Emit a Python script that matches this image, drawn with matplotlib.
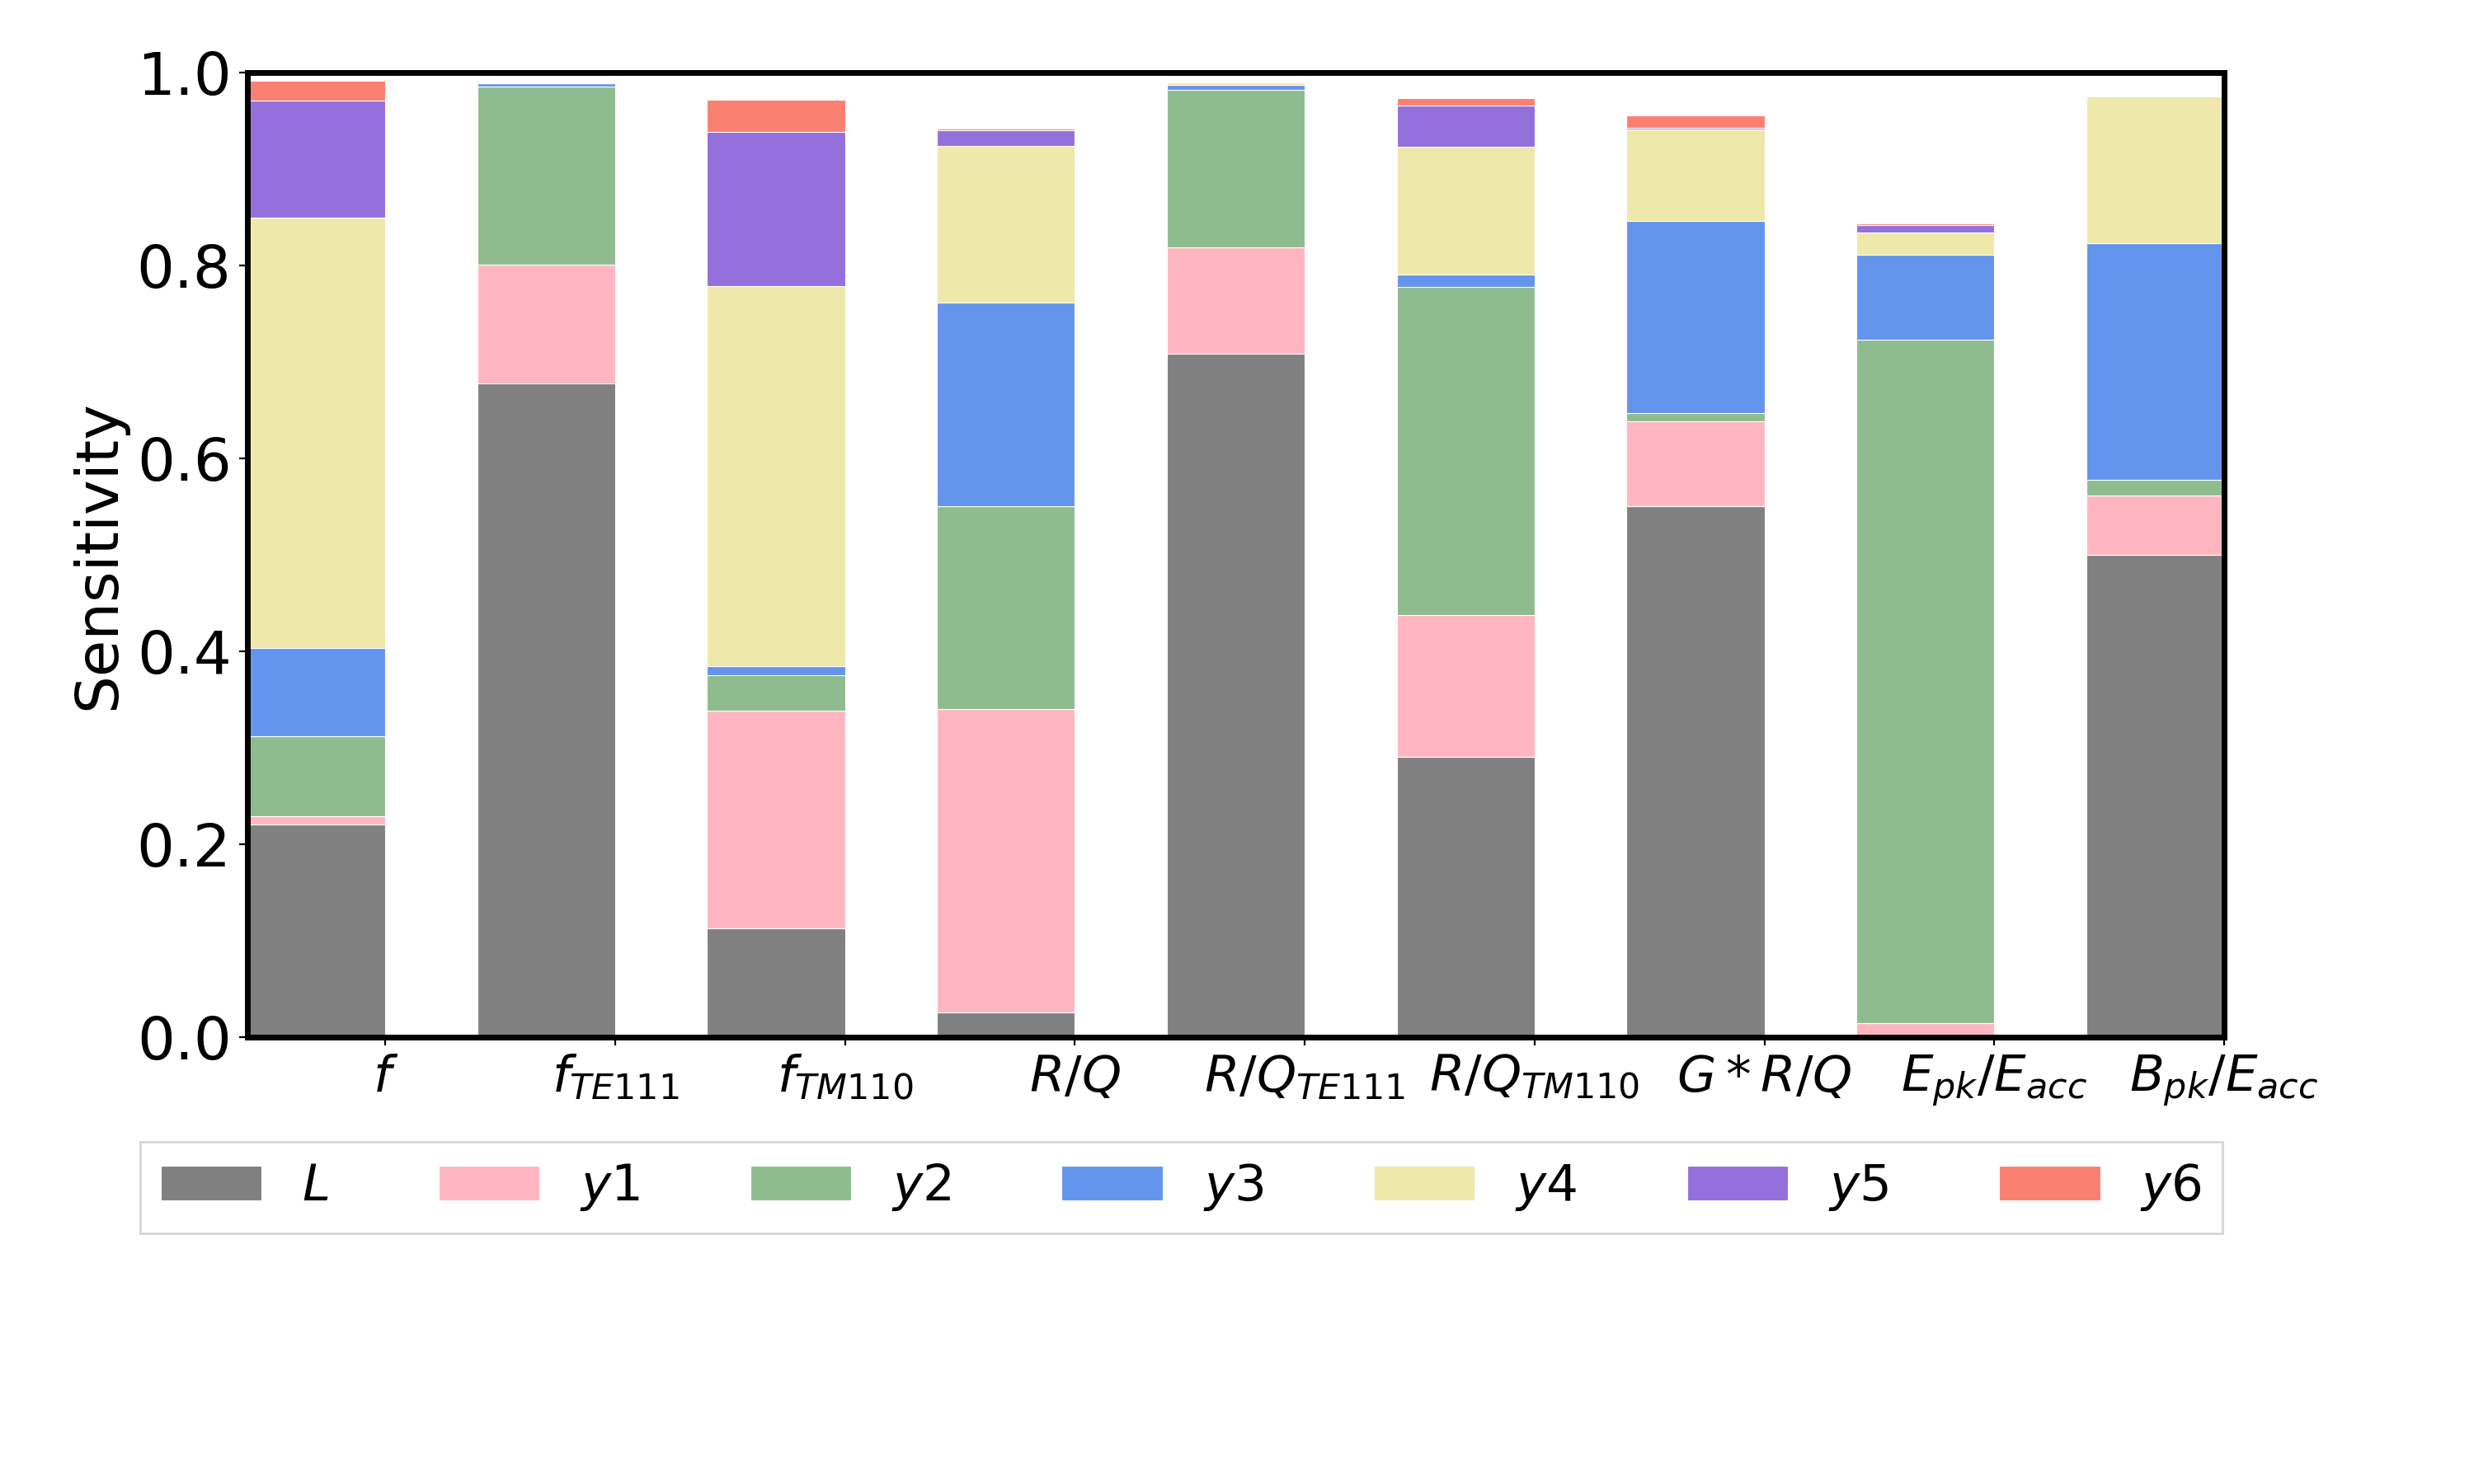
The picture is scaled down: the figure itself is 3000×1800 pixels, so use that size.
import matplotlib
matplotlib.use("Agg")
import matplotlib.pyplot as plt
import numpy as np

categories = ["$f$", "$f_{TE111}$", "$f_{TM110}$", "$R/Q$", "$R/Q_{TE111}$",
              "$R/Q_{TM110}$", "$G*R/Q$", "$E_{pk}/E_{acc}$", "$B_{pk}/E_{acc}$"]
series_names = ["$L$", "$y1$", "$y2$", "$y3$", "$y4$", "$y5$", "$y6$"]

L  = [0.221, 0.678, 0.113, 0.026, 0.709, 0.291, 0.551, 0.000, 0.500]
y1 = [0.008, 0.123, 0.226, 0.314, 0.110, 0.147, 0.088, 0.015, 0.062]
y2 = [0.083, 0.185, 0.036, 0.211, 0.163, 0.340, 0.008, 0.708, 0.016]
y3 = [0.092, 0.003, 0.010, 0.211, 0.005, 0.013, 0.199, 0.088, 0.245]
y4 = [0.446, 0.000, 0.394, 0.162, 0.003, 0.132, 0.095, 0.023, 0.152]
y5 = [0.121, 0.000, 0.160, 0.016, 0.000, 0.043, 0.002, 0.008, 0.000]
y6 = [0.021, 0.000, 0.033, 0.002, 0.000, 0.008, 0.013, 0.002, 0.001]

series = [L, y1, y2, y3, y4, y5, y6]
colors = ["gray", "lightpink", "darkseagreen", "cornflowerblue",
          "palegoldenrod", "mediumpurple", "salmon"]

plt.rcParams['font.size'] = 22
plt.rcParams['mathtext.default'] = 'it'

fig = plt.figure(figsize=(15, 9), dpi=200)
ax = fig.add_axes([0.100, 0.301, 0.799, 0.650])

x = np.arange(len(categories))
bottom = np.zeros(len(categories))
handles = []
for vals, col, name in zip(series, colors, series_names):
    vals = np.array(vals)
    h = ax.bar(x, vals, width=-0.6, align='edge', bottom=bottom, color=col,
               edgecolor='white', linewidth=0.4, label=name)
    handles.append(h)
    bottom = bottom + vals

ax.set_xlim(-0.6, 8.0)
ax.set_ylim(0, 1.0)
ax.set_xticks(x)
ax.set_xticklabels(categories, fontsize=22)
ax.set_yticks([0.0, 0.2, 0.4, 0.6, 0.8, 1.0])
ax.set_yticklabels(["0.0", "0.2", "0.4", "0.6", "0.8", "1.0"], fontsize=26)
ax.set_ylabel("Sensitivity", fontsize=26)
for s in ax.spines.values():
    s.set_linewidth(2.5)

fig.legend(handles=handles, labels=series_names, ncol=7, loc='upper left',
           bbox_to_anchor=(0.0568, 0.2306), borderaxespad=0.0,
           fancybox=False, edgecolor='0.8', fontsize=22, columnspacing=2.19)

fig.savefig("out.png", dpi=200)
